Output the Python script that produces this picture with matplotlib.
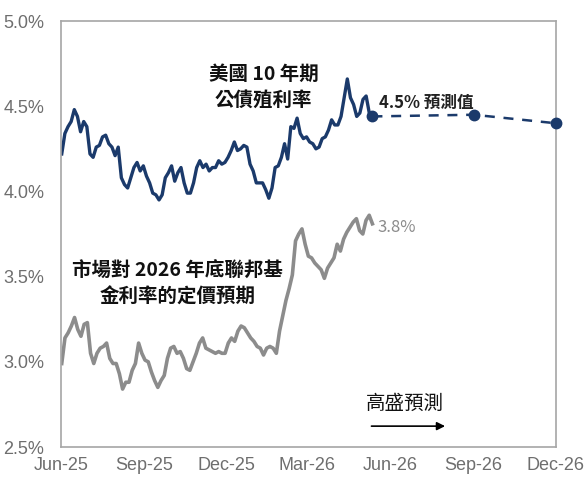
import numpy as np
import pandas as pd
import matplotlib
matplotlib.use("Agg")
import matplotlib.pyplot as plt

plt.rcParams['font.family'] = ['Liberation Sans Narrow', 'Liberation Sans', 'DejaVu Sans']
CJK = ['Noto Sans CJK TC', 'DejaVu Sans']

# US 10y treasury yield (%), every few days, Jun-25 .. mid May-26
ust10y = [
  4.22, 4.34, 4.38, 4.41, 4.48, 4.44, 4.35, 4.41, 4.38, 4.22,
  4.20, 4.26, 4.27, 4.32, 4.33, 4.28, 4.26, 4.21, 4.26, 4.08,
  4.04, 4.02, 4.08, 4.14, 4.17, 4.12, 4.15, 4.09, 4.05, 3.99,
  3.98, 3.95, 3.98, 4.08, 4.11, 4.15, 4.06, 4.11, 4.14, 4.05,
  3.99, 3.99, 4.05, 4.14, 4.18, 4.14, 4.16, 4.12, 4.14, 4.14,
  4.18, 4.16, 4.17, 4.20, 4.24, 4.29, 4.24, 4.25, 4.27, 4.26,
  4.16, 4.12, 4.05, 4.05, 4.05, 4.01, 3.96, 4.02, 4.14, 4.15,
  4.20, 4.28, 4.19, 4.38, 4.37, 4.43, 4.34, 4.31, 4.32, 4.29,
  4.28, 4.25, 4.26, 4.31, 4.32, 4.36, 4.42, 4.39, 4.39, 4.44,
  4.55, 4.66, 4.55, 4.51, 4.44, 4.46, 4.54, 4.56, 4.46, 4.44,
]

# market pricing of the end-2026 fed funds rate (%), same period
fedPricing = [
  2.99, 3.14, 3.17, 3.21, 3.26, 3.19, 3.15, 3.22, 3.23, 3.05,
  2.99, 3.05, 3.08, 3.09, 3.11, 3.02, 2.99, 2.99, 2.93, 2.84,
  2.88, 2.88, 2.95, 2.99, 3.11, 3.05, 3.01, 3.00, 2.94, 2.89,
  2.85, 2.89, 2.92, 3.02, 3.08, 3.09, 3.05, 3.06, 3.02, 2.96,
  2.95, 3.00, 3.05, 3.11, 3.14, 3.08, 3.07, 3.06, 3.05, 3.06,
  3.05, 3.05, 3.11, 3.14, 3.12, 3.18, 3.21, 3.20, 3.17, 3.14,
  3.12, 3.09, 3.08, 3.04, 3.08, 3.09, 3.08, 3.05, 3.18, 3.27,
  3.36, 3.43, 3.51, 3.71, 3.75, 3.78, 3.69, 3.62, 3.61, 3.58,
  3.56, 3.54, 3.49, 3.55, 3.58, 3.61, 3.69, 3.65, 3.72, 3.76,
  3.79, 3.82, 3.84, 3.77, 3.75, 3.83, 3.86, 3.81,
]

actualStart = "2025-06-02"
actualEnd = "2026-05-12"

# Goldman Sachs 10y forecast
forecastDates = ["2026-09-01", "2026-12-01"]
forecastValues = [4.45, 4.40]

tickDates = ["2025-06-01", "2025-09-01", "2025-12-01", "2026-03-01",
             "2026-06-01", "2026-09-01", "2026-12-01"]
tickLabels = ["Jun-25", "Sep-25", "Dec-25", "Mar-26", "Jun-26", "Sep-26", "Dec-26"]
yTicks = [2.5, 3.0, 3.5, 4.0, 4.5, 5.0]

NAVY = '#1b3a6b'
GREY = '#8c8c8c'
TICK_GREY = '#6e6e6e'

fig = plt.figure(figsize=(5.85, 4.82), dpi=100)
ax = fig.add_axes([0.104, 0.0726, 0.846, 0.8838])

ustDates = pd.date_range(actualStart, actualEnd, periods=len(ust10y))
fedDates = pd.date_range(actualStart, actualEnd, periods=len(fedPricing))

ax.plot(fedDates, fedPricing, color=GREY, lw=2.6, solid_joinstyle='round')
ax.plot(ustDates, ust10y, color=NAVY, lw=2.4, solid_joinstyle='round')

fcX = pd.to_datetime([actualEnd] + forecastDates)
fcY = [ust10y[-1]] + forecastValues
ax.plot(fcX, fcY, color=NAVY, lw=1.8, ls=(0, (4, 3.5)), marker='o', ms=7.5,
        clip_on=False, zorder=5)

ax.set_xlim(pd.Timestamp("2025-06-01"), pd.Timestamp("2026-12-01"))
ax.set_ylim(2.5, 5.0)
ax.set_xticks(pd.to_datetime(tickDates))
ax.set_xticklabels(tickLabels)
ax.set_yticks(yTicks)
ax.set_yticklabels([f"{v:.1f}%" for v in yTicks])
ax.tick_params(axis='both', length=0, labelsize=13, labelcolor=TICK_GREY)
ax.tick_params(axis='y', pad=12)
ax.tick_params(axis='x', pad=7)
for s in ax.spines.values():
  s.set_color('#a6a6a6')
  s.set_linewidth(1.2)

ax.text(0.410, 0.845, "美國 10 年期\n公債殖利率", transform=ax.transAxes,
        ha='center', va='center', fontsize=14, fontweight='bold',
        family=CJK, linespacing=1.45, color='#111111')
ax.text(0.236, 0.383, "市場對 2026 年底聯邦基\n金利率的定價預期", transform=ax.transAxes,
        ha='center', va='center', fontsize=14, fontweight='bold',
        family=CJK, linespacing=1.45, color='#111111')
ax.text(0.642, 0.808, "4.5% 預測值", transform=ax.transAxes, ha='left', va='center',
        fontsize=12, fontweight='bold', family=CJK, color='#222222')
ax.text(0.640, 0.516, "3.8%", transform=ax.transAxes, ha='left', va='center',
        fontsize=12, family=CJK, color=GREY)
ax.text(0.695, 0.103, "高盛預測", transform=ax.transAxes, ha='center', va='center',
        fontsize=14, style='italic', family=CJK, color='#111111')
ax.annotate("", xy=(0.782, 0.049), xytext=(0.622, 0.049),
            xycoords='axes fraction', textcoords='axes fraction',
            arrowprops=dict(arrowstyle='-|>', lw=1.2, color='black', mutation_scale=12))

fig.savefig("out.png", dpi=100, facecolor='white')
